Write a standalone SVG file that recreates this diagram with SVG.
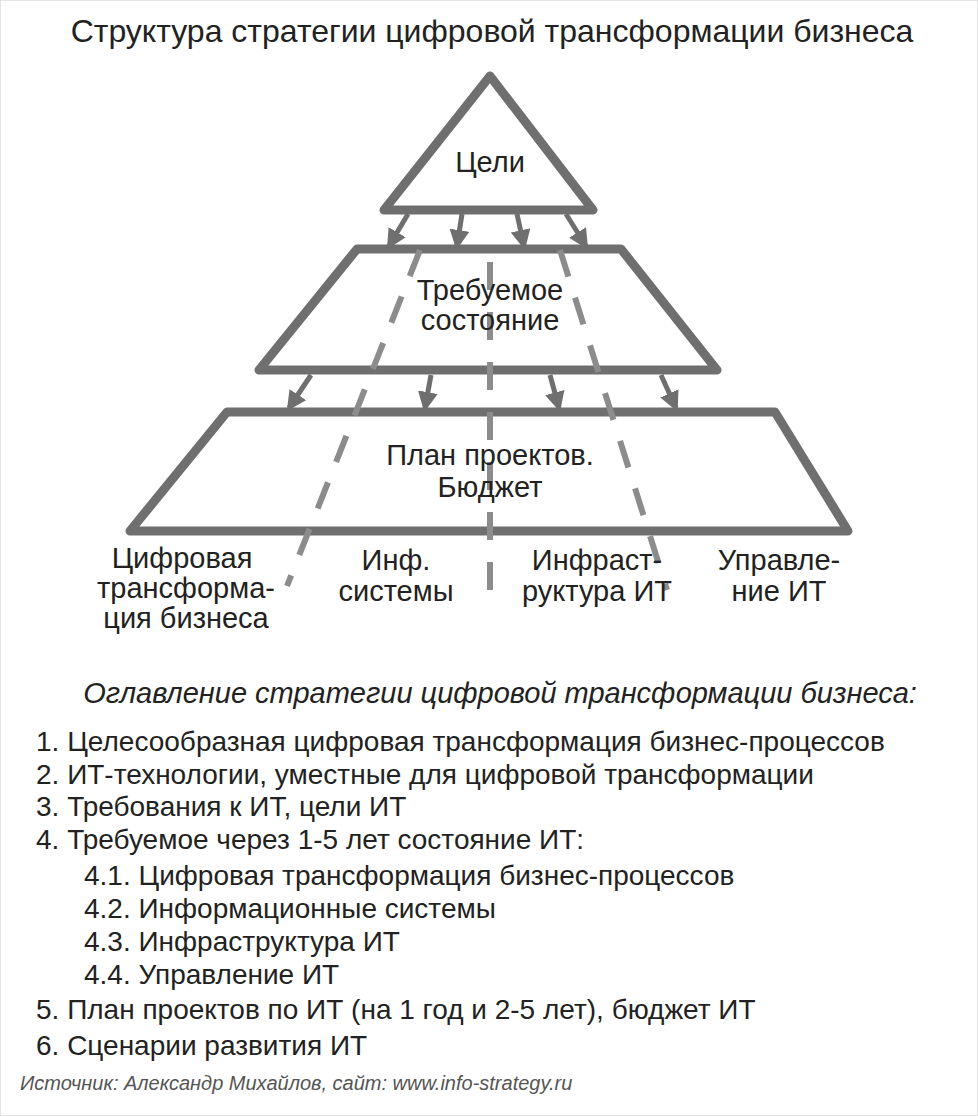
<svg xmlns="http://www.w3.org/2000/svg" width="978" height="1116" viewBox="0 0 978 1116">
<defs>
<marker id="ah" viewBox="0 0 10 10" refX="8" refY="5" markerWidth="4" markerHeight="4" orient="auto"><path d="M0,0L10,5L0,10z" fill="#6f6f6f"/></marker>
</defs>
<style>
.sh{fill:#fff;stroke:#6f6f6f;stroke-width:9;stroke-linejoin:round}
.ar{stroke:#6f6f6f;stroke-width:5;marker-end:url(#ah)}
.da{stroke:#8c8c8c;stroke-width:6;stroke-dasharray:28 22;fill:none}
text{font-family:"Liberation Sans",Arial,sans-serif;fill:#222}
.c{text-anchor:middle;font-size:29px}
.l{font-size:28px}
</style>
<rect width="978" height="1116" fill="#fff" stroke="#ccc"/>
<text x="492" y="42" class="c" style="font-size:32px">Структура стратегии цифровой трансформации бизнеса</text>
<g id="n3"><polygon class="sh" points="227,412 775,412 848,531 130,531"/></g>
<g id="n2"><polygon class="sh" points="357,249 621,249 717,370 259,370"/></g>
<g id="n1"><polygon class="sh" points="490,76 593,210 384,210"/></g>
<g id="connectors">
<line class="ar" x1="408" y1="214" x2="389" y2="246"/>
<line class="ar" x1="462" y1="214" x2="457" y2="246"/>
<line class="ar" x1="517" y1="214" x2="524" y2="246"/>
<line class="ar" x1="566" y1="214" x2="586" y2="246"/>
<line class="ar" x1="311" y1="375" x2="289" y2="408"/>
<line class="ar" x1="431" y1="375" x2="425" y2="408"/>
<line class="ar" x1="550" y1="375" x2="559" y2="408"/>
<line class="ar" x1="661" y1="375" x2="676" y2="408"/>
<line class="da" x1="420" y1="250" x2="287" y2="586"/>
<line class="da" x1="490" y1="262" x2="490" y2="590"/>
<line class="da" x1="560" y1="250" x2="667" y2="590"/>
</g>
<text x="490" y="172" class="c">Цели</text>
<text x="490" y="300" class="c">Требуемое</text>
<text x="490" y="330" class="c">состояние</text>
<text x="490" y="465" class="c">План проектов.</text>
<text x="490" y="497" class="c">Бюджет</text>
<g class="c" style="font-size:29px">
<text x="182" y="568">Цифровая</text><text x="186" y="598">трансформа-</text><text x="186" y="628">ция бизнеса</text>
<text x="396" y="570">Инф.</text><text x="396" y="601">системы</text>
<text x="597" y="570">Инфраст-</text><text x="597" y="601">руктура ИТ</text>
<text x="779" y="570">Управле-</text><text x="779" y="601">ние ИТ</text>
</g>
<text x="500" y="703" class="c" style="font-style:italic;font-size:29px">Оглавление стратегии цифровой трансформации бизнеса:</text>
<g class="l">
<text x="36" y="751">1. Целесообразная цифровая трансформация бизнес-процессов</text>
<text x="36" y="784">2. ИТ-технологии, уместные для цифровой трансформации</text>
<text x="36" y="816">3. Требования к ИТ, цели ИТ</text>
<text x="36" y="849">4. Требуемое через 1-5 лет состояние ИТ:</text>
<text x="84" y="885">4.1. Цифровая трансформация бизнес-процессов</text>
<text x="84" y="918">4.2. Информационные системы</text>
<text x="84" y="951">4.3. Инфраструктура ИТ</text>
<text x="84" y="984">4.4. Управление ИТ</text>
<text x="36" y="1019">5. План проектов по ИТ (на 1 год и 2-5 лет), бюджет ИТ</text>
<text x="36" y="1055">6. Сценарии развития ИТ</text>
</g>
<text x="20" y="1090" style="font-style:italic;font-size:20px;fill:#555">Источник: Александр Михайлов, сайт: www.info-strategy.ru</text>
</svg>
